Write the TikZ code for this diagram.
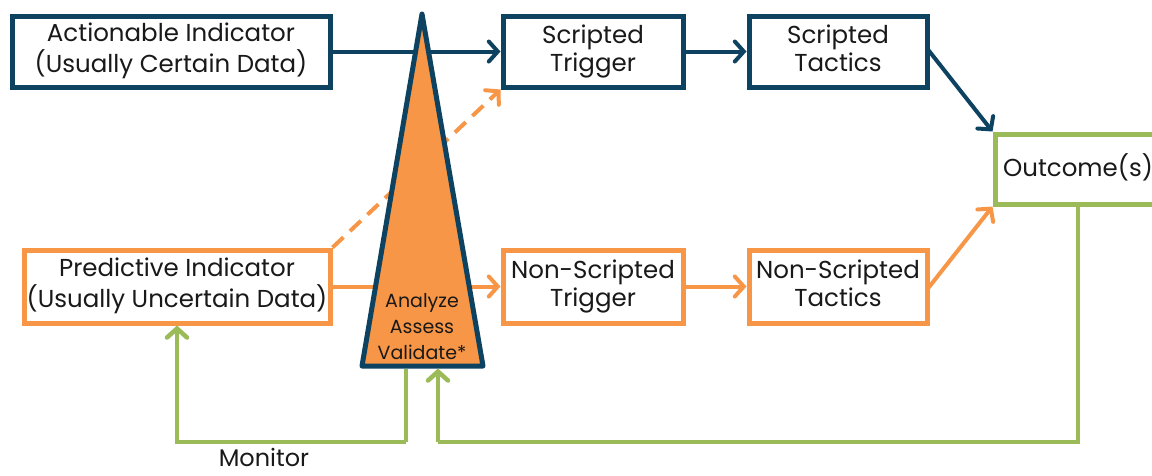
\documentclass[tikz,border=0pt]{standalone}
\usepackage{fontspec}
\setmainfont{Poppins}
\usetikzlibrary{arrows.meta}
\definecolor{navy}{HTML}{0E4261}
\definecolor{orng}{HTML}{F79646}
\definecolor{grn}{HTML}{9BBB59}
\newcommand{\twol}[2]{\raisebox{-1.5pt}{\begin{tabular}{@{}c@{}}\strut #1\\\strut #2\end{tabular}}}
\begin{document}
\begin{tikzpicture}[x=1pt,y=-1pt,
  box/.style={draw,line width=5pt,fill=white,inner sep=0pt,align=center,
    font=\fontsize{24.5}{28}\selectfont,text=black!90},
  navybox/.style={box,draw=navy},
  orbox/.style={box,draw=orng},
  grbox/.style={box,draw=grn},
  tip/.style={-{Straight Barb[length=9pt,width=20pt,line cap=round]}},
  nav/.style={draw=navy,line width=4pt,tip},
  orl/.style={draw=orng,line width=4pt,tip},
  grl/.style={draw=grn,line width=4.5pt},
]
\useasboundingbox (0,0) rectangle (1152,475);
\clip (0,0) rectangle (1152,475);
% boxes
\node[navybox,minimum width=318pt,minimum height=71pt] (act) at (171,51.5) {\twol{Actionable Indicator}{(Usually Certain Data)}};
\node[navybox,minimum width=180pt,minimum height=71pt] (st) at (593,51.5) {\twol{Scripted}{Trigger}};
\node[navybox,minimum width=178pt,minimum height=71pt] (stt) at (838,51.5) {\twol{Scripted}{Tactics}};
\node[orbox,minimum width=306pt,minimum height=73pt] (pred) at (177,286.5) {\twol{Predictive Indicator}{(Usually Uncertain Data)}};
\node[orbox,minimum width=180pt,minimum height=73pt] (nst) at (593,286.5) {\twol{Non-Scripted}{Trigger}};
\node[orbox,minimum width=178pt,minimum height=73pt] (nstt) at (838,286.5) {\twol{Non-Scripted}{Tactics}};
\node[grbox,minimum width=166pt,minimum height=70pt] (out) at (1078,169) {\strut Outcome(s)};
% connectors behind triangle
\draw[nav] (act.east) -- (st.west);
\draw[nav] (st.east) -- (stt.west);
\draw[nav,shorten <=-2pt] (stt.east) -- (out.north west);
\draw[orl] (pred.east) -- (nst.west);
\draw[orl] (nst.east) -- (nstt.west);
\draw[orl,shorten <=-2pt] (nstt.east) -- (out.south west);
\draw[orl,dash pattern=on 15pt off 9pt] (pred.north east) -- (st.south west);
% triangle
\coordinate (apex) at (422,14);
\coordinate (bl) at (362,366);
\coordinate (br) at (483,366);
\draw[navy,fill=orng,line width=5pt,line join=round] (apex) -- (br) -- (bl) -- cycle;
\node[align=center,font=\fontsize{19}{26}\selectfont,text=black!90,inner sep=0pt] (avt) at (422,328) {\strut Analyze\\\strut Assess\\\strut Validate*};
% green loops
\coordinate (tb1) at (406,368.5);
\coordinate (tb2) at (438,368.5);
\coordinate (loopL) at (406,442);
\coordinate (loopR) at (438,442);
\draw[grl] (tb1) -- (loopL);
\draw[grl] (out.south) |- (loopR);
\draw[grl,tip] (loopL) -| (pred.south);
\draw[grl,tip] (loopR) -- (tb2);
\node[font=\fontsize{24}{28}\selectfont,text=black!90,anchor=base,inner sep=0pt] (mon) at (264,466) {Monitor};
\end{tikzpicture}
\end{document}
